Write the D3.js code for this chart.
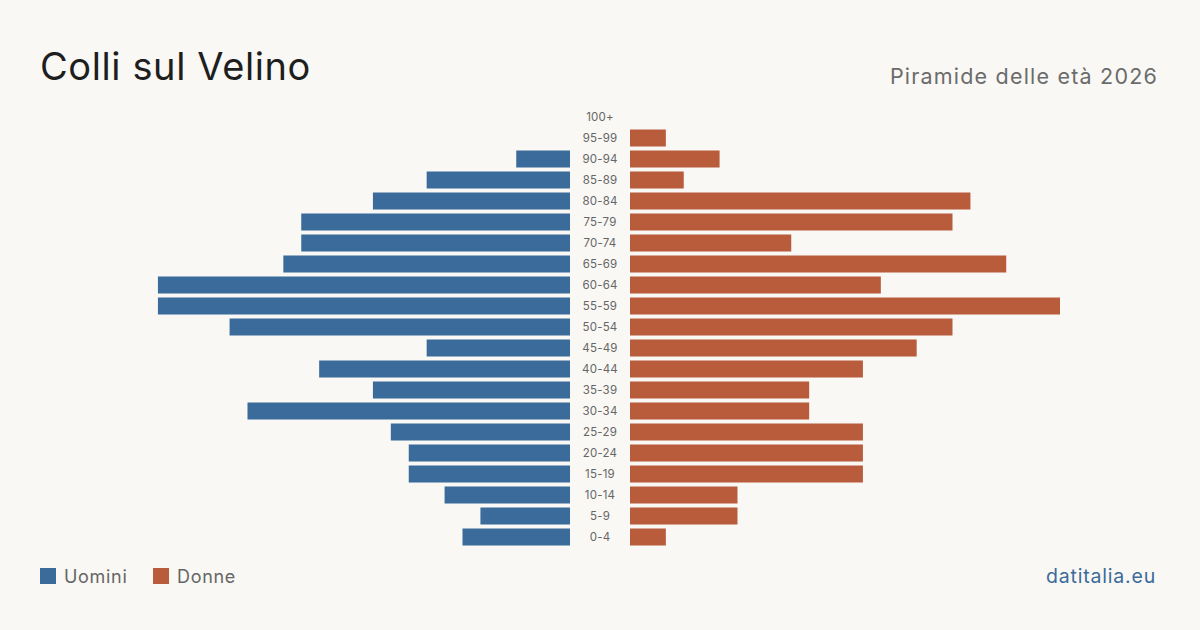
<!DOCTYPE html>
<html><head><meta charset="utf-8">
<script src="https://cdn.jsdelivr.net/npm/d3@7"></script>
<style>
html,body{margin:0;padding:0;background:#f9f8f4;}
svg{display:block;font-family:Inter,"Noto Sans",sans-serif;}
</style></head>
<body>
<svg id="chart" width="1200" height="630"></svg>
<script>
const ageGroups = ["100+","95-99","90-94","85-89","80-84","75-79","70-74","65-69","60-64","55-59","50-54","45-49","40-44","35-39","30-34","25-29","20-24","15-19","10-14","5-9","0-4"];
const male   = [0,0,3,8,11,15,15,16,23,23,19,8,14,11,18,10,9,9,7,5,6];
const female = [0,2,5,3,19,18,9,21,14,24,18,16,13,10,10,13,13,13,6,6,2];
const title = "Colli sul Velino";
const subtitle = "Piramide delle età 2026";
const legendLabels = ["Uomini","Donne"];
const colors = ["#3b6b9b","#b85c3c"];

const svg = d3.select("#chart");
svg.append("rect").attr("width",1200).attr("height",630).attr("fill","#f9f8f4");

const y = d3.scaleBand().domain(ageGroups).range([106.5,547.5]).paddingInner(0.19).paddingOuter(0.095);
const maxV = d3.max([...male,...female]);
const w = d3.scaleLinear().domain([0,maxV]).range([0,430]);
const leftX = 570, rightX = 630;

svg.append("g").selectAll("rect").data(ageGroups).join("rect")
  .attr("x",(d,i)=>leftX - w(male[i])).attr("y",d=>y(d))
  .attr("width",(d,i)=>w(male[i])).attr("height",y.bandwidth())
  .attr("fill",colors[0]);
svg.append("g").selectAll("rect").data(ageGroups).join("rect")
  .attr("x",rightX).attr("y",d=>y(d))
  .attr("width",(d,i)=>w(female[i])).attr("height",y.bandwidth())
  .attr("fill",colors[1]);

svg.append("g").selectAll("text").data(ageGroups).join("text")
  .attr("x",600).attr("y",d=>y(d)+y.bandwidth()/2)
  .attr("dy","0.35em").attr("text-anchor","middle")
  .attr("font-size",11.5).attr("letter-spacing",0.2).attr("fill","#666").text(d=>d);

svg.append("text").attr("x",40).attr("y",80).attr("font-size",38).attr("letter-spacing",0.6).attr("fill","#1e1e1e").text(title);
svg.append("text").attr("x",1158).attr("y",84).attr("text-anchor","end").attr("font-size",21.5).attr("letter-spacing",1.2).attr("fill","#6b6b6b").text(subtitle);

const lg = svg.append("g");
const lx = [40,153];
legendLabels.forEach((t,i)=>{
  lg.append("rect").attr("x",lx[i]).attr("y",568).attr("width",16).attr("height",16).attr("fill",colors[i]);
  lg.append("text").attr("x",lx[i]+24).attr("y",583).attr("font-size",18).attr("letter-spacing",0.7).attr("fill","#666").text(t);
});
svg.append("text").attr("x",1156).attr("y",583).attr("text-anchor","end").attr("font-size",19.5).attr("letter-spacing",0.8).attr("fill","#3b6b9b").text("datitalia.eu");
</script>
</body></html>
